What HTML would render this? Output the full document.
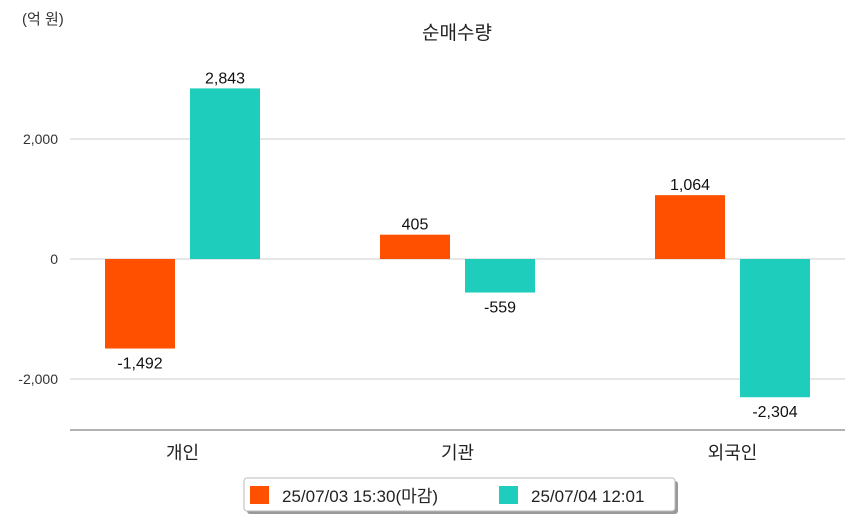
<!DOCTYPE html>
<html><head><meta charset="utf-8"><style>
body{margin:0;background:#fff;width:854px;height:520px;overflow:hidden;font-family:"Liberation Sans","Noto Sans CJK KR",sans-serif}
</style></head><body>
<svg id="chart" width="854" height="520" style="font-family:'Liberation Sans','Noto Sans CJK KR',sans-serif">
<text x="22" y="24" font-size="15" fill="#333">(억 원)</text>
<text x="457" y="39" font-size="19" text-anchor="middle" fill="#222">순매수량</text>
<g id="grid"></g><g id="bars"></g>
<g>
<rect x="247" y="481" width="431" height="33" rx="3" fill="#999"/>
<rect x="244" y="478" width="431" height="33" rx="3" fill="#fff" stroke="#bbb"/>
<rect x="250" y="486" width="19" height="18" fill="#ff5000"/>
<text x="282" y="502" font-size="17" fill="#222">25/07/03 15:30(마감)</text>
<rect x="499" y="486" width="19" height="18" fill="#1ecdbc"/>
<text x="531" y="502" font-size="17" fill="#222">25/07/04 12:01</text>
</g>
</svg>
<script>
const categories=["개인","기관","외국인"];
const series1=[-1492,405,1064];
const series2=[2843,-559,-2304];
const ticks=[2000,0,-2000];
const tickLabels=["2,000","0","-2,000"];
const NS="http://www.w3.org/2000/svg";
const y=v=>259-v*0.06;
const cx=i=>182.5+i*275;
const fmt=v=>v.toLocaleString("en-US");
function mk(tag,attrs,parent,text){const e=document.createElementNS(NS,tag);for(const k in attrs)e.setAttribute(k,attrs[k]);if(text!==undefined)e.textContent=text;parent.appendChild(e);return e;}
const g=document.getElementById("grid"),b=document.getElementById("bars");
ticks.forEach((t,i)=>{
 const l=mk("line",{x1:70,x2:845,y1:y(t),y2:y(t),stroke:"#ccc"},g);
 
 
 const tx=mk("text",{x:58,y:y(t)+5,"font-size":14,"text-anchor":"end",fill:"#333"},g,tickLabels[i]);
 
 
});
const ax=mk("line",{x1:70,x2:845,y1:430,y2:430,stroke:"#666"},g);


categories.forEach((c,i)=>{
 const t=mk("text",{x:cx(i),y:459,"font-size":18,"text-anchor":"middle",fill:"#222"},g,c);
 
 
 [[series1,"#ff5000",-77.5],[series2,"#1ecdbc",7.5]].forEach(([s,col,off])=>{
  const v=s[i],top=Math.min(y(v),y(0)),h=Math.abs(y(v)-y(0));
  const r=mk("rect",{x:cx(i)+off,y:top,width:70,height:h,fill:col},b);
  
  
  const ly=v>=0?y(v)-5:y(v)+20;
  const lt=mk("text",{x:cx(i)+off+35,y:ly,"font-size":16,"text-anchor":"middle",fill:"#111"},b,fmt(v));
  
  
 });
});
</script>
</body></html>
